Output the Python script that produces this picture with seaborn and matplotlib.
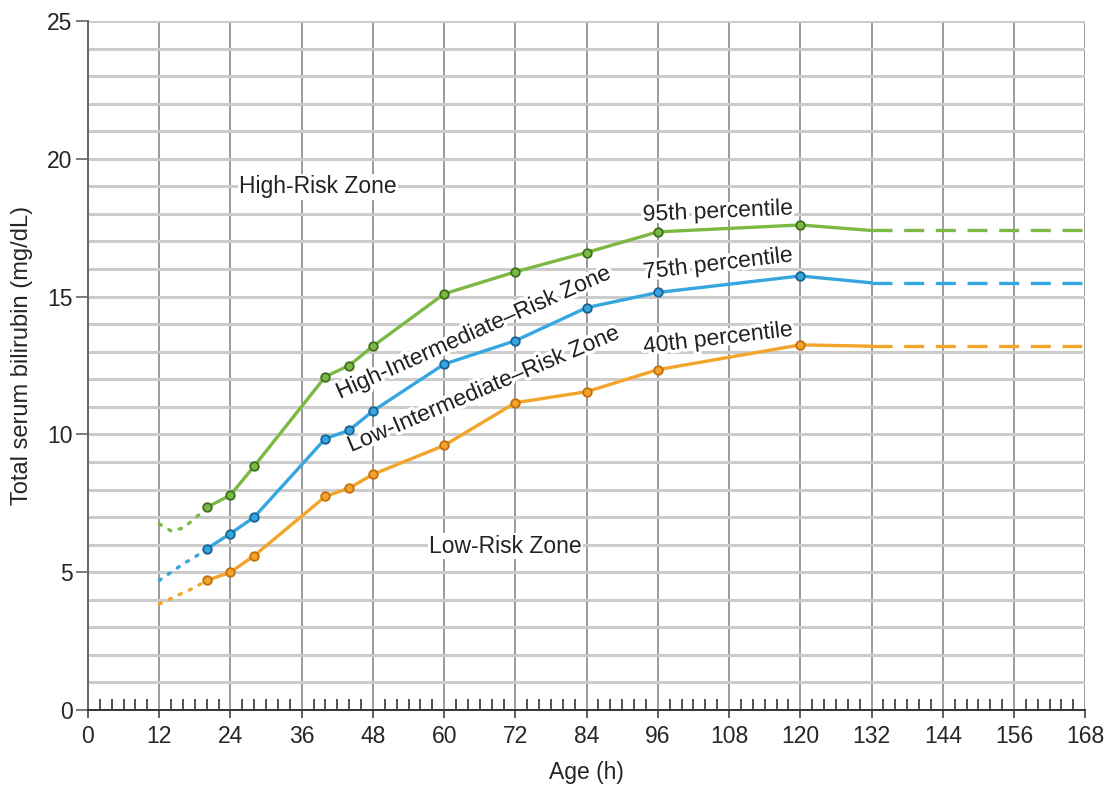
import matplotlib
matplotlib.use("Agg")
import matplotlib.pyplot as plt
import matplotlib.ticker as ticker
import matplotlib.patheffects as pe
import seaborn as sns

# Hour-specific bilirubin nomogram
hours = [20, 24, 28, 40, 44, 48, 60, 72, 84, 96, 120]
p95 = [7.35, 7.8, 8.85, 12.1, 12.5, 13.2, 15.1, 15.9, 16.6, 17.35, 17.6]
p75 = [5.85, 6.4, 7.0, 9.85, 10.15, 10.85, 12.55, 13.4, 14.6, 15.15, 15.75]
p40 = [4.7, 5.0, 5.6, 7.75, 8.05, 8.55, 9.6, 11.15, 11.55, 12.35, 13.25]

# early (dotted) part, before the first measured point
early_hours = [12, 14, 16, 18, 20]
early_p95 = [6.75, 6.5, 6.6, 6.95, 7.35]
early_p75 = [4.7, 5.0, 5.3, 5.55, 5.85]
early_p40 = [3.85, 4.05, 4.25, 4.45, 4.7]

# tail after 120 h: solid to 132 h, dashed to 168 h
tail_hours = [120, 132]
tail_p95 = [17.6, 17.4]
tail_p75 = [15.75, 15.5]
tail_p40 = [13.25, 13.2]
flat_hours = [132, 168]

x_ticks = [0, 12, 24, 36, 48, 60, 72, 84, 96, 108, 120, 132, 144, 156, 168]
y_ticks = [0, 5, 10, 15, 20, 25]

colors = {"95": "#7bb844", "75": "#35a6df", "40": "#f2a52a"}
edges = {"95": "#3f6e1d", "75": "#17628f", "40": "#c46d0c"}

sns.set_style("white")
plt.rcParams['font.family'] = ['Liberation Sans', 'DejaVu Sans']

fig = plt.figure(figsize=(11.04, 7.87), dpi=100)
ax = fig.add_axes([0.0797, 0.0978, 0.9033, 0.8755])

series = [
    ("95", p95, early_p95, tail_p95),
    ("75", p75, early_p75, tail_p75),
    ("40", p40, early_p40, tail_p40),
]

lw = 2.4
for key, vals, early, tail in series:
    c = colors[key]
    # dotted start
    sns.lineplot(x=early_hours, y=early, ax=ax, color=c, linewidth=lw,
                 linestyle=(0, (0.7, 2.6)), dash_capstyle="round", zorder=3)
    # main curve
    sns.lineplot(x=hours, y=vals, ax=ax, color=c, linewidth=lw, zorder=3)
    sns.lineplot(x=tail_hours, y=tail, ax=ax, color=c, linewidth=lw, zorder=3)
    # dashed extension
    sns.lineplot(x=flat_hours, y=[tail[-1], tail[-1]], ax=ax, color=c,
                 linewidth=lw, linestyle=(0, (6, 3.5)), zorder=3)
    sns.scatterplot(x=hours, y=vals, ax=ax, color=c, edgecolor=edges[key],
                    linewidth=1.3, s=38, zorder=4)

ax.set_xlim(0, 168)
ax.set_ylim(0, 25)
ax.set_xticks(x_ticks)
ax.set_yticks(y_ticks)
ax.xaxis.set_minor_locator(ticker.MultipleLocator(2))
ax.yaxis.set_minor_locator(ticker.MultipleLocator(1))

ax.grid(True, axis="y", which="both", color="#cccccc", linewidth=2.2, zorder=0)
ax.grid(True, axis="x", which="major", color="#9a9a9a", linewidth=1.4, zorder=0)
ax.set_axisbelow(True)

for s in ["top", "right"]:
    ax.spines[s].set_visible(False)
ax.spines["left"].set_color("#666666")
ax.spines["bottom"].set_color("#333333")
ax.spines["left"].set_linewidth(1.4)
ax.spines["bottom"].set_linewidth(1.4)

ax.tick_params(which="both", bottom=True, left=True)
ax.tick_params(axis="x", which="major", direction="out", length=6, width=1.2,
               color="#444444", labelsize=16.5, pad=5)
ax.tick_params(axis="x", which="minor", direction="in", length=8, width=1.2,
               color="#333333")
ax.tick_params(axis="y", which="major", direction="out", length=9, width=1.2,
               color="#666666", labelsize=16.5, pad=2)
ax.tick_params(axis="y", which="minor", left=False, length=0)

ax.set_xlabel("Age (h)", fontsize=16.5, labelpad=9)
ax.set_ylabel("Total serum bilirubin (mg/dL)", fontsize=17)
ax.yaxis.set_label_coords(-0.055, 0.515)

# horizontal zone labels sit on a white box, the sloped ones get a white halo
box = dict(facecolor="white", edgecolor="none", pad=1.0)
halo = [pe.withStroke(linewidth=5, foreground="white")]
txt = dict(fontsize=16.5, color="#222222", ha="center", va="center",
           zorder=3.5, rotation_mode="anchor")
ax.text(38.75, 18.98, "High-Risk Zone", bbox=box, **txt)
ax.text(70.3, 5.95, "Low-Risk Zone", bbox=box, **txt)
ax.text(64.9, 13.7, "High-Intermediate\u2013Risk Zone", rotation=24,
        path_effects=halo, **txt)
ax.text(66.6, 11.65, "Low-Intermediate\u2013Risk Zone", rotation=23,
        path_effects=halo, **txt)
ax.text(106.1, 18.1, "95th percentile", rotation=2.5, path_effects=halo, **txt)
ax.text(106.1, 16.2, "75th percentile", rotation=6.7, path_effects=halo, **txt)
ax.text(106.1, 13.5, "40th percentile", rotation=6.7, path_effects=halo, **txt)

fig.savefig("out.png", dpi=100)
